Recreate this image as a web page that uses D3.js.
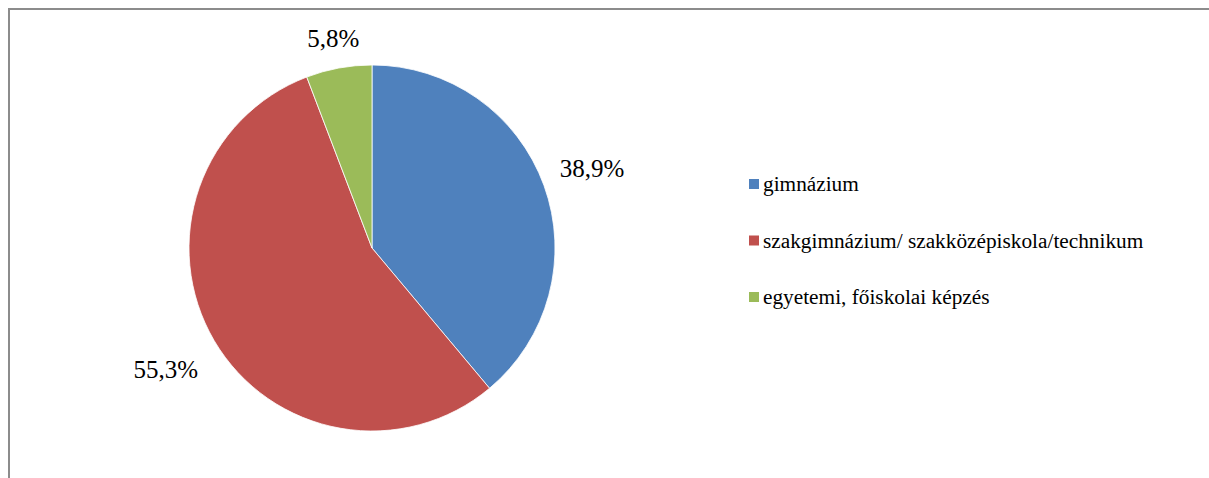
<!DOCTYPE html>
<html>
<head>
<meta charset="utf-8">
<script src="https://cdn.jsdelivr.net/npm/d3@7"></script>
<style>
  body { margin: 0; background: #fff; }
</style>
</head>
<body>
<div id="chart"></div>
<script>
var categories = ["gimnázium", "szakgimnázium/ szakközépiskola/technikum", "egyetemi, főiskolai képzés"];
var values = [38.9, 55.3, 5.8];
var labels = ["38,9%", "55,3%", "5,8%"];
var colors = ["#4f81bd", "#c0504d", "#9bbb59"];

var serif = "'Liberation Serif', 'Times New Roman', Times, serif";
var dim = { width: 1209, height: 478 };
var pie = { cx: 372, cy: 248, r: 183 };

var svg = d3.select("#chart").append("svg")
    .attr("width", dim.width)
    .attr("height", dim.height);

// chart frame (only top & left visible)
svg.append("path")
    .attr("d", "M9,478 L9,9 L1209,9")
    .attr("fill", "none")
    .attr("stroke", "#8c8c8c")
    .attr("stroke-width", 2);

var arcs = d3.pie().sort(null).value(function(d) { return d; })(values);
var arc = d3.arc().innerRadius(0).outerRadius(pie.r);

var g = svg.append("g")
    .attr("transform", "translate(" + pie.cx + "," + pie.cy + ")");

g.selectAll("path.slice").data(arcs).enter()
    .append("path")
    .attr("class", "slice")
    .attr("d", arc)
    .attr("fill", function(d, i) { return colors[i]; })
    .attr("stroke", "#fff")
    .attr("stroke-width", 0.8);

// data labels, placed outside along the mid angle
var labelOffset = [51, 56, 30];
g.selectAll("text.lbl").data(arcs).enter()
    .append("text")
    .attr("class", "lbl")
    .attr("transform", function(d, i) {
      var a = (d.startAngle + d.endAngle) / 2;
      var rr = pie.r + labelOffset[i];
      var x = Math.sin(a) * rr, y = -Math.cos(a) * rr;
      return "translate(" + x + "," + y + ")";
    })
    .attr("text-anchor", "middle")
    .attr("dy", "0.35em")
    .attr("font-family", serif)
    .attr("font-size", 25)
    .text(function(d, i) { return labels[i]; });

// legend
var legend = svg.append("g")
    .attr("transform", "translate(749,184)");
var item = legend.selectAll("g").data(categories).enter()
    .append("g")
    .attr("transform", function(d, i) { return "translate(0," + (i * 56.5) + ")"; });
item.append("rect")
    .attr("x", 0).attr("y", -5)
    .attr("width", 10).attr("height", 10)
    .attr("fill", function(d, i) { return colors[i]; });
item.append("text")
    .attr("x", 14)
    .attr("dy", "0.35em")
    .attr("font-family", serif)
    .attr("font-size", 21.3)
    .text(function(d) { return d; });
</script>
</body>
</html>
